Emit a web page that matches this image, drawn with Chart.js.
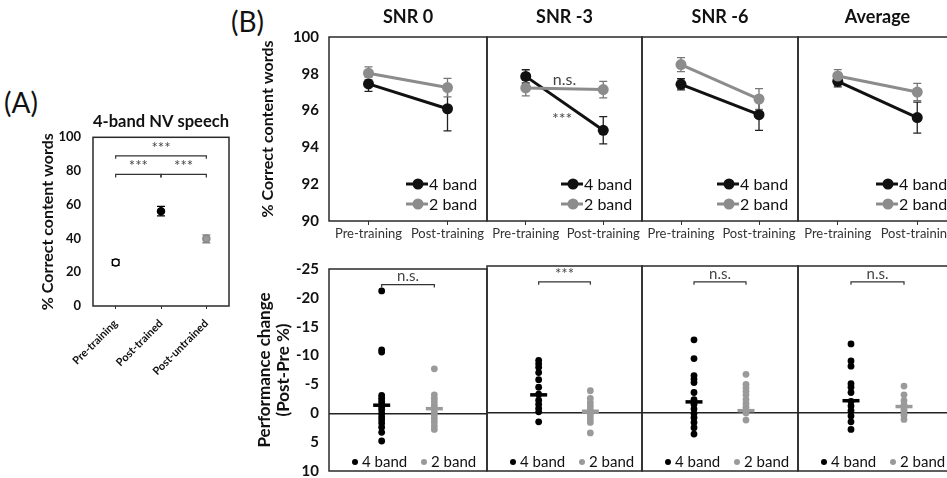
<!DOCTYPE html>
<html>
<head>
<meta charset="utf-8">
<script src="https://cdn.jsdelivr.net/npm/chart.js@4.4.1/dist/chart.umd.min.js"></script>
<style>
  html, body { margin: 0; padding: 0; background: #fff; overflow: hidden; }
  #fig { position: relative; width: 947px; height: 478px; overflow: hidden; font-family: Lato, "Open Sans", sans-serif; }
  .tag { position: absolute; font-size: 28px; color: #111; line-height: 1; }
</style>
</head>
<body>
<div id="fig">
  <div class="tag" style="left:4px;top:88px">(A)</div>
  <div class="tag" style="left:231px;top:7px">(B)</div>
</div>
<script>
// panel A
const groupsA = ['Pre-training', 'Post-trained', 'Post-untrained'];
const scoresA = [25.8, 56.2, 39.8];
const errA = [1.7, 2.8, 2.3];

// panel B, top row (means per phase: pre, post)
const conditions = ['SNR 0', 'SNR -3', 'SNR -6', 'Average'];
const phases = ['Pre-training', 'Post-training'];
const band4Means = [[97.45, 96.1], [97.86, 94.93], [97.43, 95.78], [97.59, 95.62]];
const band4Errs  = [[0.4, 1.2], [0.36, 0.74], [0.3, 0.85], [0.3, 0.84]];
const band2Means = [[98.03, 97.25], [97.23, 97.14], [98.5, 96.63], [97.88, 97.01]];
const band2Errs  = [[0.35, 0.5], [0.43, 0.45], [0.38, 0.56], [0.35, 0.47]];

// panel B, bottom row (performance change per listener, Post-Pre %)
const band4Change = [
  [-21.2, -11.0, -10.6, -3.1, -2.6, -2.1, -1.6, -1.1, -0.6, 0.0, 0.6, 1.1, 1.7, 2.4, 3.3, 4.8],
  [-8.9, -8.3, -7.7, -6.8, -5.6, -4.3, -3.1, -2.1, -1.4, -0.7, -0.1, 1.6],
  [-12.4, -9.2, -6.3, -5.7, -5.1, -3.4, -2.2, -1.4, -0.6, 0.2, 0.9, 1.7, 2.6, 3.7],
  [-11.7, -8.8, -7.9, -4.9, -4.3, -3.4, -1.9, -1.1, -0.3, 0.6, 1.6, 2.9]
];
const band2Change = [
  [-7.7, -3.2, -2.6, -2.0, -1.4, -0.8, -0.2, 0.3, 0.9, 1.5, 2.2, 2.8],
  [-3.7, -2.4, -1.7, -1.1, -0.5, 0.1, 0.6, 1.2, 1.7, 3.5],
  [-6.5, -4.8, -4.2, -3.6, -3.0, -2.2, -1.5, -0.9, -0.3, 0.1, 1.3],
  [-4.5, -3.0, -2.0, -1.3, -0.6, -0.2, 0.5, 1.2]
];
const band4ChangeMean = [-1.4, -3.0, -1.8, -2.0];
const band2ChangeMean = [-0.8, -0.2, -0.3, -1.0];
const changeSig = ['n.s.', '***', 'n.s.', 'n.s.'];

const GRAY = '#8c8c8c';
const DOT_GRAY = '#9a9a9a';
Chart.defaults.font.family = 'Lato, "Open Sans", sans-serif';
Chart.defaults.color = '#111';

function addCanvas(left, top, w, h) {
  const c = document.createElement('canvas');
  c.width = w; c.height = h;
  c.style.cssText = 'position:absolute;left:' + left + 'px;top:' + top + 'px;width:' + w + 'px;height:' + h + 'px';
  document.getElementById('fig').appendChild(c);
  return c;
}

// error bars from dataset.errors
const errorBars = {
  id: 'errorBars',
  beforeDatasetsDraw(chart) {
    const ctx = chart.ctx, ys = chart.scales.y;
    chart.data.datasets.forEach((ds, di) => {
      if (!ds.errors) return;
      const meta = chart.getDatasetMeta(di);
      ctx.save();
      ctx.lineWidth = 1.3;
      meta.data.forEach((pt, i) => {
        const top = ys.getPixelForValue(ds.data[i] + ds.errors[i]);
        const bot = ys.getPixelForValue(ds.data[i] - ds.errors[i]);
        ctx.strokeStyle = Array.isArray(ds.errorColor) ? ds.errorColor[i] : ds.errorColor;
        ctx.beginPath();
        ctx.moveTo(pt.x, top); ctx.lineTo(pt.x, bot);
        ctx.moveTo(pt.x - 4, top); ctx.lineTo(pt.x + 4, top);
        ctx.moveTo(pt.x - 4, bot); ctx.lineTo(pt.x + 4, bot);
        ctx.stroke();
      });
      ctx.restore();
    });
  }
};

// frame, significance brackets, notes and in-plot legends
const deco = {
  id: 'deco',
  afterDraw(chart, args, opts) {
    const ctx = chart.ctx, a = chart.chartArea;
    const xs = chart.scales.x, ys = chart.scales.y;
    ctx.save();
    ctx.strokeStyle = '#2a2a2a';
    ctx.lineWidth = 1.5;
    ctx.strokeRect(a.left, a.top, a.right - a.left, a.bottom - a.top);

    ctx.textAlign = 'center';
    ctx.textBaseline = 'middle';
    (opts.brackets || []).forEach(b => {
      const x1 = xs.getPixelForValue(b.from), x2 = xs.getPixelForValue(b.to);
      const y = ys.getPixelForValue(b.at);
      ctx.strokeStyle = '#333';
      ctx.lineWidth = 1.2;
      ctx.beginPath();
      ctx.moveTo(x1, y + 3); ctx.lineTo(x1, y); ctx.lineTo(x2, y); ctx.lineTo(x2, y + 3);
      ctx.stroke();
      ctx.fillStyle = '#444';
      ctx.font = (b.size || 12) + 'px Lato, sans-serif';
      ctx.fillText(b.text, (x1 + x2) / 2, y - 8);
    });
    (opts.notes || []).forEach(n => {
      ctx.fillStyle = '#444';
      ctx.font = '16px Lato, sans-serif';
      ctx.fillText(n.text, xs.getPixelForValue(n.x), ys.getPixelForValue(n.y));
    });

    const items = chart.data.datasets.filter(ds => ds.inLegend);
    ctx.textAlign = 'left';
    if (opts.legend === 'line') {
      ctx.font = '16px Lato, sans-serif';
      items.forEach((ds, k) => {
        const y = a.bottom - 37 + k * 20;
        ctx.strokeStyle = ds.borderColor;
        ctx.lineWidth = 3;
        ctx.beginPath(); ctx.moveTo(a.right - 81, y); ctx.lineTo(a.right - 59, y); ctx.stroke();
        ctx.fillStyle = ds.borderColor;
        ctx.beginPath(); ctx.arc(a.right - 69, y, 5.5, 0, Math.PI * 2); ctx.fill();
        ctx.fillStyle = '#111';
        ctx.fillText(ds.label, a.right - 58, y + 1);
      });
    } else if (opts.legend === 'dot') {
      ctx.font = '15px Lato, sans-serif';
      const offs = [26, 95];
      items.forEach((ds, k) => {
        const y = a.bottom - 10;
        ctx.fillStyle = ds.backgroundColor;
        ctx.beginPath(); ctx.arc(a.left + offs[k], y + 1, 3, 0, Math.PI * 2); ctx.fill();
        ctx.fillStyle = '#111';
        ctx.fillText(ds.label, a.left + offs[k] + 7, y + 1);
      });
    }
    ctx.restore();
  }
};

// ---- panel A ----
new Chart(addCanvas(0, 0, 240, 420), {
  type: 'line',
  data: {
    labels: groupsA,
    datasets: [{
      data: scoresA,
      errors: errA,
      errorColor: ['#000', '#000', '#888'],
      showLine: false,
      pointRadius: 3.5,
      pointBorderWidth: 1.5,
      pointBackgroundColor: ['#fff', '#000', DOT_GRAY],
      pointBorderColor: ['#000', '#000', '#888']
    }]
  },
  options: {
    responsive: false,
    animation: false,
    layout: { autoPadding: false, padding: { right: 11 } },
    plugins: {
      legend: { display: false },
      tooltip: { enabled: false },
      title: {
        display: true, text: '4-band NV speech', fullSize: false, color: '#111',
        font: { size: 17, weight: 'bold', lineHeight: 1.2 },
        padding: { top: 111.8, bottom: 5.1 }
      },
      deco: {
        brackets: [
          { from: 0, to: 2, at: 89, text: '***', size: 15 },
          { from: 0, to: 1, at: 78, text: '***', size: 15 },
          { from: 1, to: 2, at: 78, text: '***', size: 15 }
        ]
      }
    },
    scales: {
      x: {
        offset: true,
        grid: { display: true, drawOnChartArea: false, tickLength: 3, color: '#333' },
        border: { display: false },
        ticks: { font: { size: 11, weight: 'bold' }, minRotation: 45, maxRotation: 45, padding: 8, color: '#111' },
        afterFit: s => { s.height = 114; }
      },
      y: {
        min: 0, max: 100,
        ticks: { stepSize: 20, font: { size: 13, weight: 'bold' }, padding: 12, color: '#111' },
        grid: { display: false, drawTicks: false },
        border: { display: false },
        title: { display: true, text: '% Correct content words', font: { size: 16, weight: 'bold' }, padding: { top: 38.4, bottom: 0 }, color: '#111' },
        afterFit: s => { s.width = 93; }
      }
    }
  },
  plugins: [errorBars, deco]
});

// ---- panel B ----
const panelLeft = [329, 487, 642, 798];
const panelRight = [487, 642, 798, 957];

function topChart(i) {
  const first = i === 0;
  const left = first ? 240 : panelLeft[i] - 2;
  const width = panelRight[i] - left + 2;
  new Chart(addCanvas(left, 0, width, 250), {
    type: 'line',
    data: {
      labels: phases,
      datasets: [
        {
          label: '4 band', inLegend: true, data: band4Means[i], errors: band4Errs[i], errorColor: '#222',
          borderColor: '#111', backgroundColor: '#111', borderWidth: 3, pointRadius: 5.5, pointBorderWidth: 0, order: 1
        },
        {
          label: '2 band', inLegend: true, data: band2Means[i], errors: band2Errs[i], errorColor: '#777',
          borderColor: GRAY, backgroundColor: GRAY, borderWidth: 3, pointRadius: 5.5, pointBorderWidth: 0, order: 0
        }
      ]
    },
    options: {
      responsive: false,
      animation: false,
      layout: { autoPadding: false, padding: { left: first ? 0 : 2, right: 2, top: 0, bottom: 0 } },
      plugins: {
        legend: { display: false },
        tooltip: { enabled: false },
        title: {
          display: true, text: conditions[i], fullSize: false, color: '#111',
          font: { size: 18, weight: 'bold', lineHeight: 1.2 },
          padding: { top: 6.8, bottom: 8.6 }
        },
        deco: {
          legend: 'line',
          notes: i === 1 ? [{ x: 0.5, y: 97.66, text: 'n.s.' }, { x: 0.47, y: 95.55, text: '***' }] : []
        }
      },
      scales: {
        x: {
          offset: true,
          grid: { display: true, drawOnChartArea: false, tickLength: 4, color: '#333' },
          border: { display: false },
          ticks: { font: { size: 13 }, padding: 1, color: '#333', maxRotation: 0, autoSkip: false },
          afterFit: s => { s.height = 29; }
        },
        y: {
          display: first,
          min: 90, max: 100,
          ticks: { stepSize: 2, font: { size: 15, weight: 'bold' }, padding: 10, color: '#111' },
          grid: { display: false, drawTicks: false },
          border: { display: false },
          title: { display: true, text: '% Correct content words', font: { size: 16, weight: 'bold' }, padding: { top: 18.4, bottom: 0 }, color: '#111' },
          afterFit: s => { s.width = first ? 89 : 0; }
        }
      }
    },
    plugins: [errorBars, deco]
  });
}

function bottomChart(i) {
  const first = i === 0;
  const left = first ? 240 : panelLeft[i] - 2;
  const width = panelRight[i] - left + 2;
  // canvas runs past the page bottom so the last tick label never squeezes the plot
  new Chart(addCanvas(left, 250, width, 260), {
    type: 'scatter',
    data: {
      datasets: [
        {
          label: '4 band', inLegend: true, data: band4Change[i].map(v => ({ x: 1, y: v })),
          backgroundColor: '#000', borderColor: '#000', pointRadius: 3.4, pointBorderWidth: 0, order: 2
        },
        {
          label: '2 band', inLegend: true, data: band2Change[i].map(v => ({ x: 2, y: v })),
          backgroundColor: DOT_GRAY, borderColor: DOT_GRAY, pointRadius: 3.4, pointBorderWidth: 0, order: 2
        },
        {
          label: '4 band mean', data: [{ x: 1, y: band4ChangeMean[i] }],
          pointStyle: 'line', pointRadius: 8.5, pointBorderWidth: 3.5, borderColor: '#000', backgroundColor: '#000', order: 0
        },
        {
          label: '2 band mean', data: [{ x: 2, y: band2ChangeMean[i] }],
          pointStyle: 'line', pointRadius: 8.5, pointBorderWidth: 3.5, borderColor: DOT_GRAY, backgroundColor: DOT_GRAY, order: 0
        }
      ]
    },
    options: {
      responsive: false,
      animation: false,
      layout: { autoPadding: false, padding: { left: first ? 0 : 2, right: 2, top: 16, bottom: 39 } },
      plugins: {
        legend: { display: false },
        tooltip: { enabled: false },
        deco: {
          legend: 'dot',
          brackets: [{ from: 1, to: 2, at: -22.3, text: changeSig[i], size: 15 }]
        }
      },
      scales: {
        x: { type: 'linear', min: 0, max: 3, display: false },
        y: {
          reverse: true,
          min: -25, max: 10,
          ticks: { display: first, stepSize: 5, font: { size: 15, weight: 'bold' }, padding: 10, color: '#111' },
          grid: {
            display: true, drawTicks: false, lineWidth: 1.5,
            color: c => (c.tick && c.tick.value === 0 ? '#222' : 'rgba(0,0,0,0)')
          },
          border: { display: false },
          title: {
            display: first, text: ['Performance change', '(Post-Pre %)'],
            font: { size: 17, weight: 'bold', lineHeight: 1.1 }, padding: { top: 15.6, bottom: 0 }, color: '#111'
          },
          afterFit: s => { s.width = first ? 89 : 0; }
        }
      }
    },
    plugins: [deco]
  });
}

for (let i = 0; i < conditions.length; i++) {
  topChart(i);
  bottomChart(i);
}
</script>
</body>
</html>
